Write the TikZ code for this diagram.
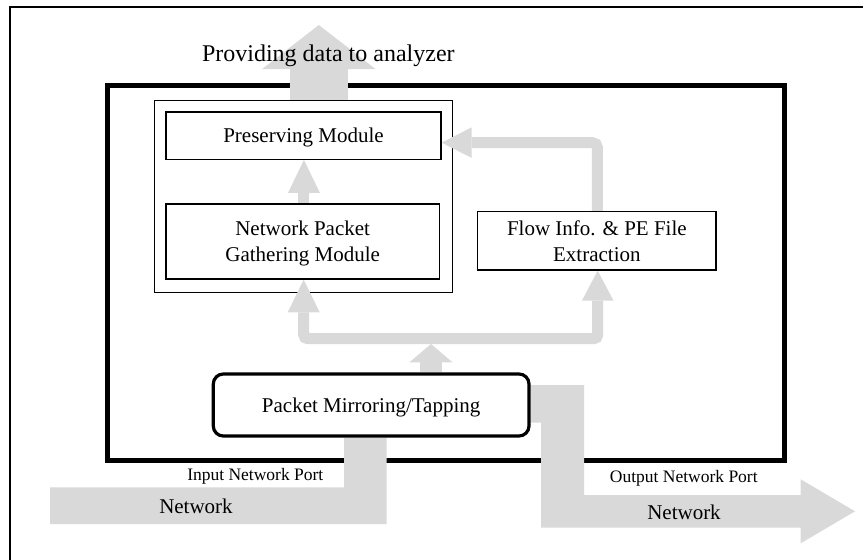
\documentclass[tikz,border=0pt]{standalone}
\usepackage{fontspec}
\setmainfont{Liberation Serif}
\usetikzlibrary{arrows.meta,calc}
\definecolor{arrowgray}{RGB}{217,217,217}
\pgfdeclarelayer{framelayer}
\pgfdeclarelayer{graylayer}
\pgfsetlayers{framelayer,graylayer,main}
\begin{document}
\begin{tikzpicture}[x=1pt,y=-1pt,
  box/.style={draw, fill=white, line width=1.3pt, inner sep=0pt, align=center,
    text depth=0pt, font=\fontsize{21}{25.7}\selectfont},
  gline/.style={draw=arrowgray, line width=11pt},
  lbl/.style={anchor=base, inner sep=0pt},
  biglbl/.style={lbl, font=\fontsize{21}{25}\selectfont},
  portlbl/.style={lbl, font=\fontsize{17.5}{21}\selectfont}]
\useasboundingbox (0,0) rectangle (863,560);

% module boxes
\node[box, minimum width=275pt, minimum height=47.3pt] (pres) at (303.5,135.65) {Preserving Module};
\node[box, minimum width=273.3pt, minimum height=75pt] (gath) at (302.65,241.5) {Network Packet\\Gathering Module};
\node[box, minimum width=238.3pt, minimum height=58.3pt] (flow) at (596.85,240.85) {Flow Info. \& PE File\\Extraction};
\node[box, line width=3.2pt, rounded corners=10pt, minimum width=315.7pt, minimum height=62pt] (pkt) at (371.15,405) {Packet Mirroring/Tapping};

% labels
\node[lbl, font=\fontsize{24}{28}\selectfont] (prov) at (328.35,61.7) {Providing data to analyzer};
\node[portlbl] (inport) at (255.3,480) {Input Network Port};
\node[biglbl] (innet) at (196,513.3) {Network};
\node[portlbl] (outport) at (683.8,482.7) {Output Network Port};
\node[biglbl] (outnet) at (684,519.3) {Network};

\begin{pgfonlayer}{framelayer}
  \draw[line width=1.5pt] (10,560) -- (10,7) -- (863,7);
  \node[draw, line width=5pt, minimum width=677pt, minimum height=374.5pt, inner sep=0pt] (sys) at (446,272.75) {};
  \node[draw, line width=1.3pt, minimum width=298pt, minimum height=191.8pt, inner sep=0pt] (grp) at (303.5,196.4) {};
\end{pgfonlayer}

\begin{pgfonlayer}{graylayer}
  % output to analyzer
  \coordinate (outtip) at (318.85,25);
  \draw[gline, line width=57.7pt, -{Triangle[width=113.3pt,length=44pt,line width=0pt]}] (outtip |- grp.north) -- (outtip);
  % gathering -> preserving
  \draw[gline, -{Triangle[width=32pt,length=33pt,line width=0pt]}] ([xshift=1.3pt]gath.north) -- ([xshift=1.3pt]gath.north |- pres.south);
  % flow -> preserving
  \draw[gline, rounded corners=5pt, -{Triangle[width=30.6pt,length=30pt,line width=0pt]}] ([xshift=0.6pt]flow.north) |- ([yshift=-7pt]pres.east);
  % distribution bus
  \coordinate (busL) at (303.7,338.7);
  \coordinate (busR) at (597.7,338.7);
  \draw[gline, rounded corners=4pt, {Triangle[width=32pt,length=32.7pt,line width=0pt]}-{Triangle[width=31.6pt,length=30pt,line width=0pt]}] (busL |- gath.south) -- (busL) -- (busR) -- (busR |- flow.south);
  % packet -> bus
  \coordinate (tap) at (431,344);
  \draw[gline, line width=22pt, -{Triangle[width=43pt,length=18.3pt,line width=0pt]}] (tap |- pkt.north) -- (tap);
  % input network
  \fill[arrowgray] (50,487.3) -- (344,487.3) -- ($(pkt.south)+(-27.15,0)$) -- ($(pkt.south)+(15.55,0)$) -- (386.7,524) -- (50,524) -- cycle;
  % output network
  \fill[arrowgray] ($(pkt.east)+(0,-20)$) -- (584,385) -- (584,495) -- (800.7,495) -- (800.7,479.3) -- (855,511.3) -- (800.7,543.3) -- (800.7,527.7) -- (541,527.7) -- (541,422.7) -- ($(pkt.east)+(0,17.7)$) -- cycle;
\end{pgfonlayer}
\end{tikzpicture}
\end{document}
